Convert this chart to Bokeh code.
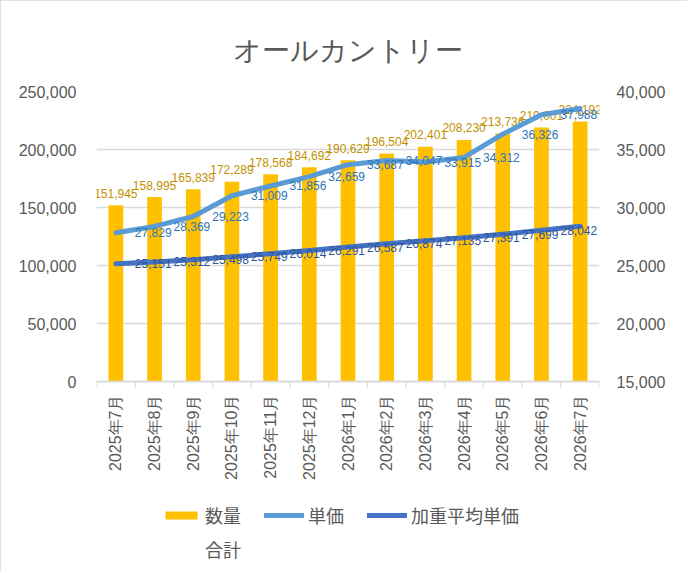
import math
from bokeh.plotting import figure
from bokeh.models import (Range1d, LinearAxis, FixedTicker, NumeralTickFormatter,
                          ColumnDataSource, Legend, LegendItem, Span)
from bokeh.core.properties import value
from bokeh.embed import file_html
from bokeh.resources import INLINE

title_text = "オールカントリー"
months = ["2025年7月", "2025年8月", "2025年9月", "2025年10月", "2025年11月", "2025年12月",
          "2026年1月", "2026年2月", "2026年3月", "2026年4月", "2026年5月", "2026年6月", "2026年7月"]
quantity = [151945, 158995, 165839, 172289, 178568, 184692, 190629,
            196504, 202401, 208230, 213736, 219001, 224192]
unit_price = [27829, 28369, 29223, 31009, 31856, 32659, 33687,
              34047, 33915, 34312, 36326, 37988, 38532]
wavg_price = [25151, 25312, 25498, 25749, 26014, 26291, 26587,
              26874, 27135, 27391, 27699, 28042, 28381]
left_ticks = [0, 50000, 100000, 150000, 200000, 250000]
right_ticks = [15000, 20000, 25000, 30000, 35000, 40000]
series_names = ["数量", "単価", "加重平均単価"]
series_name_line2 = "合計"

n = len(months)
xs = [i + 0.5 for i in range(n)]
bounds = list(range(n + 1))
src = ColumnDataSource(dict(
    x=xs, q=quantity, u=unit_price, w=wavg_price, m=months,
    zero=[0] * n,
    q_lbl=[f"{v:,}" for v in quantity],
    u_lbl=[f"{v:,}" for v in unit_price],
    w_lbl=[f"{v:,}" for v in wavg_price],
))

GRAY_TXT = "#595959"
GRID = "#D9D9D9"
NUMFONT = "Liberation Sans"
JPFONT = "Noto Sans CJK JP"

# layout: value area is 290px tall; the frame extends 191px further down to hold
# the category labels and the legend
PLOT_H = 290
EXTRA_H = 191
lo, hi = left_ticks[0], left_ticks[-1]
rlo, rhi = right_ticks[0], right_ticks[-1]
left_start = lo - (hi - lo) * EXTRA_H / PLOT_H
right_start = rlo - (rhi - rlo) * EXTRA_H / PLOT_H

p = figure(frame_width=503, frame_height=PLOT_H + EXTRA_H, output_backend="svg",
           toolbar_location=None,
           x_range=Range1d(0, n), y_range=Range1d(left_start, hi),
           min_border_left=96, min_border_right=88, min_border_top=91, min_border_bottom=0,
           styles={"outline": "1px solid #D9D9D9", "outline-offset": "-1px"})
p.extra_y_ranges = {"right": Range1d(right_start, rhi)}

p.title.text = title_text
p.title.align = "center"
p.title.text_font = NUMFONT
p.title.text_font_size = "28px"
p.title.text_font_style = "normal"
p.title.text_color = GRAY_TXT
p.title.standoff = 52

p.outline_line_color = None
p.xgrid.visible = False
p.xaxis.visible = False
p.ygrid.ticker = FixedTicker(ticks=left_ticks)
p.ygrid.grid_line_color = GRID
p.ygrid.grid_line_width = 1.3

# left axis
ly = p.yaxis[0]
ly.ticker = FixedTicker(ticks=left_ticks)
ly.formatter = NumeralTickFormatter(format="0,0")
ly.axis_line_color = None
ly.major_tick_line_color = None
ly.minor_tick_line_color = None
ly.major_tick_out = 0
ly.major_tick_in = 0
ly.major_label_standoff = 20
ly.major_label_text_font = NUMFONT
ly.major_label_text_font_size = "16px"
ly.major_label_text_color = GRAY_TXT

# right axis
ry = LinearAxis(y_range_name="right", ticker=FixedTicker(ticks=right_ticks),
                formatter=NumeralTickFormatter(format="0,0"))
ry.axis_line_color = None
ry.major_tick_line_color = None
ry.minor_tick_line_color = None
ry.major_tick_out = 0
ry.major_tick_in = 0
ry.major_label_standoff = 17
ry.major_label_text_font = NUMFONT
ry.major_label_text_font_size = "16px"
ry.major_label_text_color = GRAY_TXT
p.add_layout(ry, "right")

# category axis (line, between-category ticks, rotated labels)
p.add_layout(Span(location=0, dimension="width", line_color=GRID, line_width=1.3))
p.ray(x=bounds, y=[0] * len(bounds), length=6, length_units="screen", angle=-math.pi / 2,
      line_color=GRID, line_width=1.3)
p.text(x="x", y="zero", text="m", source=src, angle=math.pi / 2, text_align="right",
       text_baseline="middle", y_offset=13, text_font=value(NUMFONT), text_font_size="16px",
       text_color=GRAY_TXT)

bars = p.vbar(x="x", top="q", width=0.38, source=src, fill_color="#FFC000", line_color=None)
p.text(x="x", y="q", text="q_lbl", source=src, text_align="center", text_baseline="alphabetic",
       y_offset=-12, text_font=value(NUMFONT), text_font_size="12px", text_color="#BF9000")

l1 = p.line(x="x", y="u", source=src, y_range_name="right", line_color="#5B9BD5",
            line_width=5, line_cap="round", line_join="round")
l2 = p.line(x="x", y="w", source=src, y_range_name="right", line_color="#4472C4",
            line_width=5, line_cap="round", line_join="round")
p.text(x="x", y="u", text="u_lbl", source=src, y_range_name="right", text_align="left",
       text_baseline="middle", x_offset=19, text_font=value(NUMFONT), text_font_size="12px",
       text_color="#2E75B6")
p.text(x="x", y="w", text="w_lbl", source=src, y_range_name="right", text_align="left",
       text_baseline="middle", x_offset=19, text_font=value(NUMFONT), text_font_size="12px",
       text_color="#2F5597")

# invisible renderer used only to carry the second line of the first legend label
blank = p.line(x=[], y=[], line_alpha=0)

legend = Legend(items=[LegendItem(label=series_names[0], renderers=[bars]),
                       LegendItem(label=series_names[1], renderers=[l1]),
                       LegendItem(label=series_names[2], renderers=[l2]),
                       LegendItem(label=series_name_line2, renderers=[blank])],
                orientation="horizontal", ncols=3, location=(65, 10),
                border_line_color=None, background_fill_alpha=0,
                label_text_font=JPFONT, label_text_font_size="18px", label_text_color=GRAY_TXT,
                glyph_width=40, glyph_height=10, spacing=8, label_standoff=4, label_width=51,
                padding=4, margin=0)
p.add_layout(legend)

open("out.html", "w").write(file_html(p, INLINE))
